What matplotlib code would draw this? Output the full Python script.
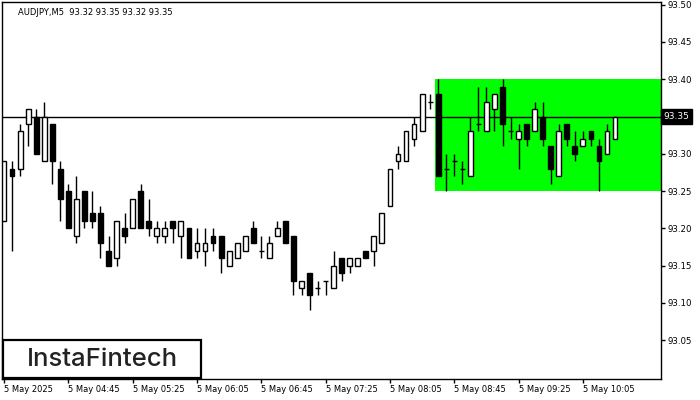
import matplotlib
matplotlib.use("Agg")
import matplotlib.pyplot as plt
import matplotlib.patches as patches
import matplotlib.transforms as mtransforms

# AUDJPY M5 candles, 04:05 .. 10:25
opens = [93.21, 93.28, 93.28, 93.34, 93.35, 93.29, 93.34, 93.28, 93.25, 93.19,
         93.25, 93.22, 93.22, 93.17, 93.16, 93.20, 93.20, 93.25, 93.21, 93.19,
         93.19, 93.21, 93.19, 93.20, 93.17, 93.17, 93.19, 93.19, 93.15, 93.16,
         93.17, 93.20, 93.17, 93.16, 93.19, 93.21, 93.19, 93.12, 93.14, 93.12,
         93.13, 93.12, 93.16, 93.15, 93.15, 93.17, 93.17, 93.18, 93.23, 93.29,
         93.29, 93.32, 93.33, 93.37, 93.38, 93.28, 93.29, 93.28, 93.27, 93.34,
         93.33, 93.36, 93.39, 93.33, 93.32, 93.34, 93.33, 93.35, 93.31, 93.27,
         93.34, 93.31, 93.31, 93.33, 93.31, 93.30, 93.32]
highs = [93.29, 93.29, 93.34, 93.36, 93.36, 93.37, 93.34, 93.29, 93.26, 93.27,
         93.25, 93.25, 93.23, 93.19, 93.21, 93.22, 93.24, 93.26, 93.24, 93.21,
         93.21, 93.21, 93.21, 93.20, 93.20, 93.20, 93.20, 93.19, 93.17, 93.18,
         93.19, 93.21, 93.19, 93.19, 93.21, 93.21, 93.19, 93.13, 93.14, 93.13,
         93.13, 93.17, 93.16, 93.16, 93.16, 93.17, 93.19, 93.22, 93.28, 93.31,
         93.33, 93.35, 93.38, 93.38, 93.40, 93.30, 93.30, 93.29, 93.35, 93.39,
         93.39, 93.38, 93.40, 93.35, 93.34, 93.34, 93.37, 93.37, 93.31, 93.34,
         93.34, 93.33, 93.33, 93.33, 93.32, 93.34, 93.35]
lows = [93.21, 93.17, 93.27, 93.31, 93.30, 93.29, 93.26, 93.21, 93.20, 93.18,
        93.20, 93.20, 93.16, 93.15, 93.15, 93.18, 93.20, 93.20, 93.19, 93.18,
        93.18, 93.18, 93.16, 93.16, 93.16, 93.15, 93.17, 93.14, 93.15, 93.16,
        93.17, 93.18, 93.16, 93.16, 93.19, 93.18, 93.11, 93.11, 93.09, 93.11,
        93.11, 93.12, 93.13, 93.14, 93.15, 93.16, 93.15, 93.18, 93.23, 93.28,
        93.29, 93.31, 93.33, 93.36, 93.27, 93.25, 93.27, 93.26, 93.27, 93.33,
        93.33, 93.33, 93.31, 93.32, 93.28, 93.31, 93.33, 93.31, 93.26, 93.27,
        93.31, 93.29, 93.31, 93.31, 93.25, 93.30, 93.32]
closes = [93.29, 93.27, 93.33, 93.36, 93.30, 93.35, 93.29, 93.24, 93.20, 93.24,
          93.21, 93.21, 93.18, 93.15, 93.21, 93.19, 93.24, 93.20, 93.20, 93.20,
          93.20, 93.20, 93.21, 93.16, 93.18, 93.18, 93.18, 93.16, 93.17, 93.18,
          93.19, 93.18, 93.17, 93.18, 93.20, 93.18, 93.13, 93.13, 93.11, 93.12,
          93.13, 93.15, 93.14, 93.16, 93.16, 93.16, 93.19, 93.22, 93.28, 93.30,
          93.33, 93.34, 93.38, 93.37, 93.27, 93.28, 93.29, 93.28, 93.33, 93.34,
          93.37, 93.38, 93.34, 93.33, 93.33, 93.32, 93.36, 93.32, 93.28, 93.33,
          93.32, 93.30, 93.32, 93.32, 93.29, 93.33, 93.35]

time_labels = ["5 May 2025", "5 May 04:45", "5 May 05:25", "5 May 06:05", "5 May 06:45",
               "5 May 07:25", "5 May 08:05", "5 May 08:45", "5 May 09:25", "5 May 10:05"]
label_every = 8

price_ticks = [93.05, 93.10, 93.15, 93.20, 93.25, 93.30, 93.35, 93.40, 93.45, 93.50]
last_price = 93.35

# rectangle pattern (range)
rect_start = 53.6
rect_low = 93.25
rect_high = 93.40

title = "AUDJPY,M5  93.32 93.35 93.32 93.35"

fig = plt.figure(figsize=(7, 4), dpi=100)
ax = fig.add_axes([2 / 700, 21 / 400, 658.5 / 700, 377 / 400])

x_max = 81.65
ax.set_xlim(-0.25, x_max)
ax.set_ylim(92.998, 93.5036)

# green range box
ax.add_patch(patches.Rectangle((rect_start, rect_low), x_max - rect_start, rect_high - rect_low,
                               facecolor="#00ff00", edgecolor="none", zorder=0))

# current price line
ax.axhline(last_price, color="black", linewidth=1, zorder=1)

# candles
body_w = 0.6
for i in range(len(opens)):
    o, h, l, c = opens[i], highs[i], lows[i], closes[i]
    ax.vlines(i, l, h, color="black", linewidth=1, zorder=2)
    bottom = min(o, c)
    height = abs(c - o)
    if height < 1e-9:
        ax.hlines(o, i - body_w / 2, i + body_w / 2, color="black", linewidth=1, zorder=3)
        continue
    face = "white" if c > o else "black"
    ax.add_patch(patches.Rectangle((i - body_w / 2, bottom), body_w, height,
                                   facecolor=face, edgecolor="black", linewidth=1, zorder=3))

# axes styling
for side in ["top", "left", "right", "bottom"]:
    ax.spines[side].set_linewidth(1)
    ax.spines[side].set_color("black")

ax.yaxis.tick_right()
ax.set_yticks(price_ticks)
# the last price tag sits over its own tick, so leave that label to the tag
ax.set_yticklabels(["" if abs(p - last_price) < 1e-9 else f"{p:.2f}" for p in price_ticks],
                   fontsize=6.2)
ax.tick_params(axis="y", direction="out", length=3, width=1, pad=2)

ax.set_xticks([k * label_every for k in range(len(time_labels))])
ax.set_xticklabels(time_labels, fontsize=6, ha="left")
ax.tick_params(axis="x", direction="out", length=3, width=1, pad=1)

# last price tag on the axis
blend = mtransforms.blended_transform_factory(ax.transAxes, ax.transData)
ax.text(1.005, last_price, f"{last_price:.2f}", transform=blend, fontsize=6.5, color="white",
        va="center", ha="left", zorder=5, clip_on=False,
        bbox=dict(boxstyle="square,pad=0.3", facecolor="black", edgecolor="black"))

ax.text(0.024, 0.983, title, transform=ax.transAxes, fontsize=6, va="top", ha="left")

# logo box
fig.patches.append(patches.Rectangle((3 / 700, 22 / 400), 198 / 700, 38 / 400,
                                     transform=fig.transFigure, facecolor="white",
                                     edgecolor="black", linewidth=1.6, zorder=10))
fig.text(102 / 700, 40 / 400, "InstaFintech", fontsize=18.5, family="Inter", fontweight="medium",
         color="#222222", ha="center", va="center", zorder=11)

fig.savefig("out.png", dpi=100)
